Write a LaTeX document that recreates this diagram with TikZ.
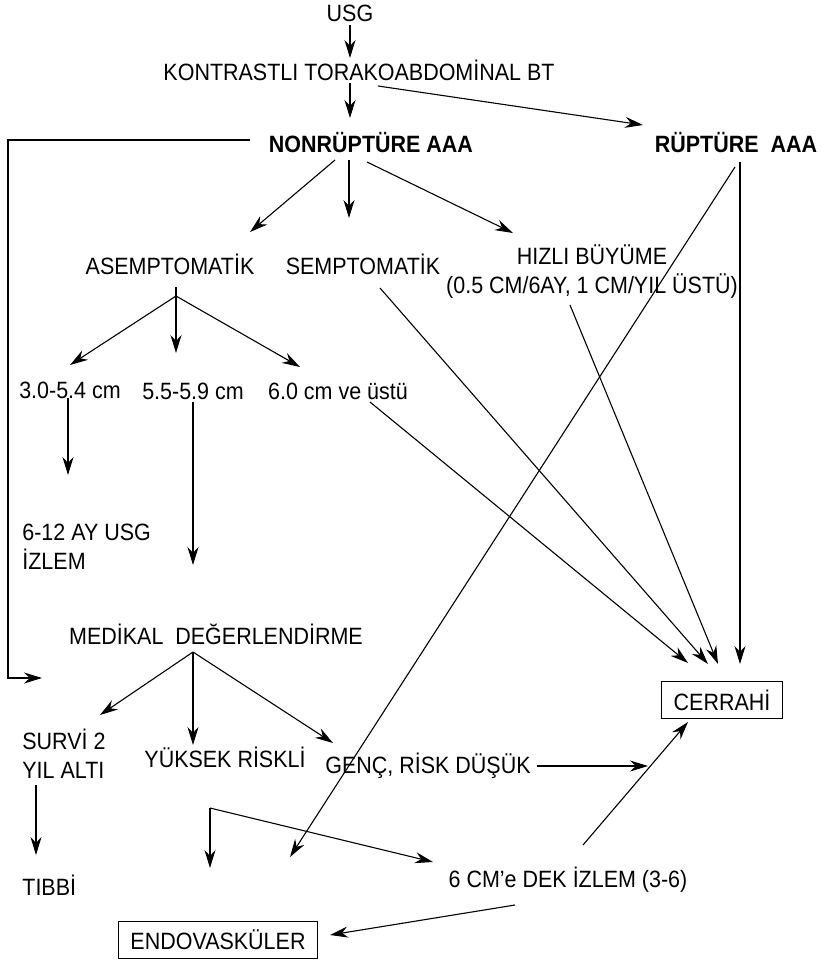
\documentclass[tikz,border=0pt]{standalone}
\usepackage{fontspec}
\setmainfont[FakeStretch=0.91]{Liberation Sans}
\usetikzlibrary{arrows.meta}

\begin{document}
\begin{tikzpicture}[x=0.5pt,y=-0.5pt,
		every node/.style={font=\fontsize{11.8}{14.5}\selectfont, inner sep=0pt},
		arr/.style={-{Stealth[length=9pt,width=5.5pt]}, line width=0.55pt},
		kutu/.style={draw, line width=0.6pt, inner xsep=6pt, minimum height=18.5pt}]
		\useasboundingbox (0,0) rectangle (822,969);
		
		% metinler
		\node (usg) at (350,13) {USG};
		\node (bt) at (359,70) {KONTRASTLI TORAKOABDOMİNAL BT};
		\node[font=\fontsize{11.8}{14.5}\selectfont\bfseries] (nonr) at (371,143) {NONRÜPTÜRE AAA};
		\node[font=\fontsize{11.8}{14.5}\selectfont\bfseries] (rupt) at (736,143) {RÜPTÜRE\ \ AAA};
		\node (asemp) at (170,264) {ASEMPTOMATİK};
		\node (semp) at (363,264) {SEMPTOMATİK};
		\node[align=center] (hizli) at (592,272) {HIZLI BÜYÜME\\(0.5 CM/6AY, 1 CM/YIL ÜSTÜ)};
		\node (c30) at (70,390) {3.0-5.4 cm};
		\node (c55) at (193,391) {5.5-5.9 cm};
		\node (c60) at (338,391) {6.0 cm ve üstü};
		\node[anchor=west, align=left] (izlem) at (22,547) {6-12 AY USG\\İZLEM};
		\node (medikal) at (216,634) {MEDİKAL\ \ DEĞERLENDİRME};
		\node[kutu] (cerrahi) at (722,700) {CERRAHİ};
		\node[anchor=west, align=left] (survi) at (22,754) {SURVİ 2\\YIL ALTI};
		\node[anchor=west] (tibbi) at (22,885) {TIBBİ};
		\node (yuksek) at (225,757) {YÜKSEK RİSKLİ};
		\node (genc) at (428,766) {GENÇ, RİSK DÜŞÜK};
		\node (dek) at (568,880) {6 CM’e DEK İZLEM (3-6)};
		\node[kutu] (endo) at (218,940) {ENDOVASKÜLER};
		
		% ok uclari
		\coordinate (usg-s) at (350,25);   \coordinate (bt-n) at (350,58);
		\coordinate (bt-s) at (350,83);    \coordinate (nonr-n) at (350,118);
		\coordinate (bt-e) at (378,86);    \coordinate (rupt-n) at (643,125);
		\coordinate (nonr-w) at (250,140); \coordinate (sol-1) at (8,140);
		\coordinate (sol-2) at (8,678);    \coordinate (medikal-w) at (42,678);
		\coordinate (nonr-1) at (335,160); \coordinate (asemp-n) at (250,232);
		\coordinate (nonr-2) at (349,160); \coordinate (semp-n) at (349,218);
		\coordinate (nonr-3) at (367,162); \coordinate (hizli-n) at (513,233);
		\coordinate (asemp-s) at (176,287); \coordinate (asemp-b) at (176,296);
		\coordinate (c30-n) at (70,365);   \coordinate (c55-n) at (176,353);
		\coordinate (c60-n) at (300,367);
		\coordinate (c30-s) at (68,398);   \coordinate (izlem-n) at (68,475);
		\coordinate (c55-s) at (193,402);  \coordinate (medikal-n) at (193,565);
		\coordinate (c60-s) at (370,402);  \coordinate (cerrahi-1) at (688,663);
		\coordinate (semp-s) at (380,288); \coordinate (cerrahi-2) at (708,664);
		\coordinate (hizli-s) at (570,305); \coordinate (cerrahi-3) at (718,664);
		\coordinate (rupt-1) at (740,162); \coordinate (cerrahi-4) at (740,664);
		\coordinate (rupt-2) at (735,167); \coordinate (endo-1) at (290,857);
		\coordinate (medikal-b) at (193,652);
		\coordinate (survi-n) at (100,715); \coordinate (yuksek-n) at (193,745);
		\coordinate (genc-n) at (333,743);
		\coordinate (survi-s) at (36,785); \coordinate (tibbi-n) at (36,855);
		\coordinate (genc-e) at (537,766); \coordinate (genc-hedef) at (648,766);
		\coordinate (dek-1) at (583,845);  \coordinate (dek-hedef) at (688,722);
		\coordinate (yuksek-s) at (210,808); \coordinate (endo-2) at (210,868);
		\coordinate (dek-n) at (433,862);
		\coordinate (dek-s) at (515,905);  \coordinate (endo-e) at (330,935);
		
		% oklar
		\draw[arr] (usg-s) -- (bt-n);
		\draw[arr] (bt-s) -- (nonr-n);
		\draw[arr] (bt-e) -- (rupt-n);
		\draw[arr] (nonr-w) -- (sol-1) -- (sol-2) -- (medikal-w);
		
		\draw[arr] (nonr-1) -- (asemp-n);
		\draw[arr] (nonr-2) -- (semp-n);
		\draw[arr] (nonr-3) -- (hizli-n);
		
		\draw[line width=0.55pt] (asemp-s) -- (asemp-b);
		\draw[arr] (asemp-b) -- (c30-n);
		\draw[arr] (asemp-b) -- (c55-n);
		\draw[arr] (asemp-b) -- (c60-n);
		
		\draw[arr] (c30-s) -- (izlem-n);
		\draw[arr] (c55-s) -- (medikal-n);
		\draw[arr] (c60-s) -- (cerrahi-1);
		\draw[arr] (semp-s) -- (cerrahi-2);
		\draw[arr] (hizli-s) -- (cerrahi-3);
		\draw[arr] (rupt-1) -- (cerrahi-4);
		\draw[arr] (rupt-2) -- (endo-1);
		
		\draw[arr] (medikal-b) -- (survi-n);
		\draw[arr] (medikal-b) -- (yuksek-n);
		\draw[arr] (medikal-b) -- (genc-n);
		
		\draw[arr] (survi-s) -- (tibbi-n);
		\draw[arr] (genc-e) -- (genc-hedef);
		\draw[arr] (dek-1) -- (dek-hedef);
		\draw[arr] (yuksek-s) -- (endo-2);
		\draw[arr] (yuksek-s) -- (dek-n);
		\draw[arr] (dek-s) -- (endo-e);
		
		\end{tikzpicture}
\end{document}
